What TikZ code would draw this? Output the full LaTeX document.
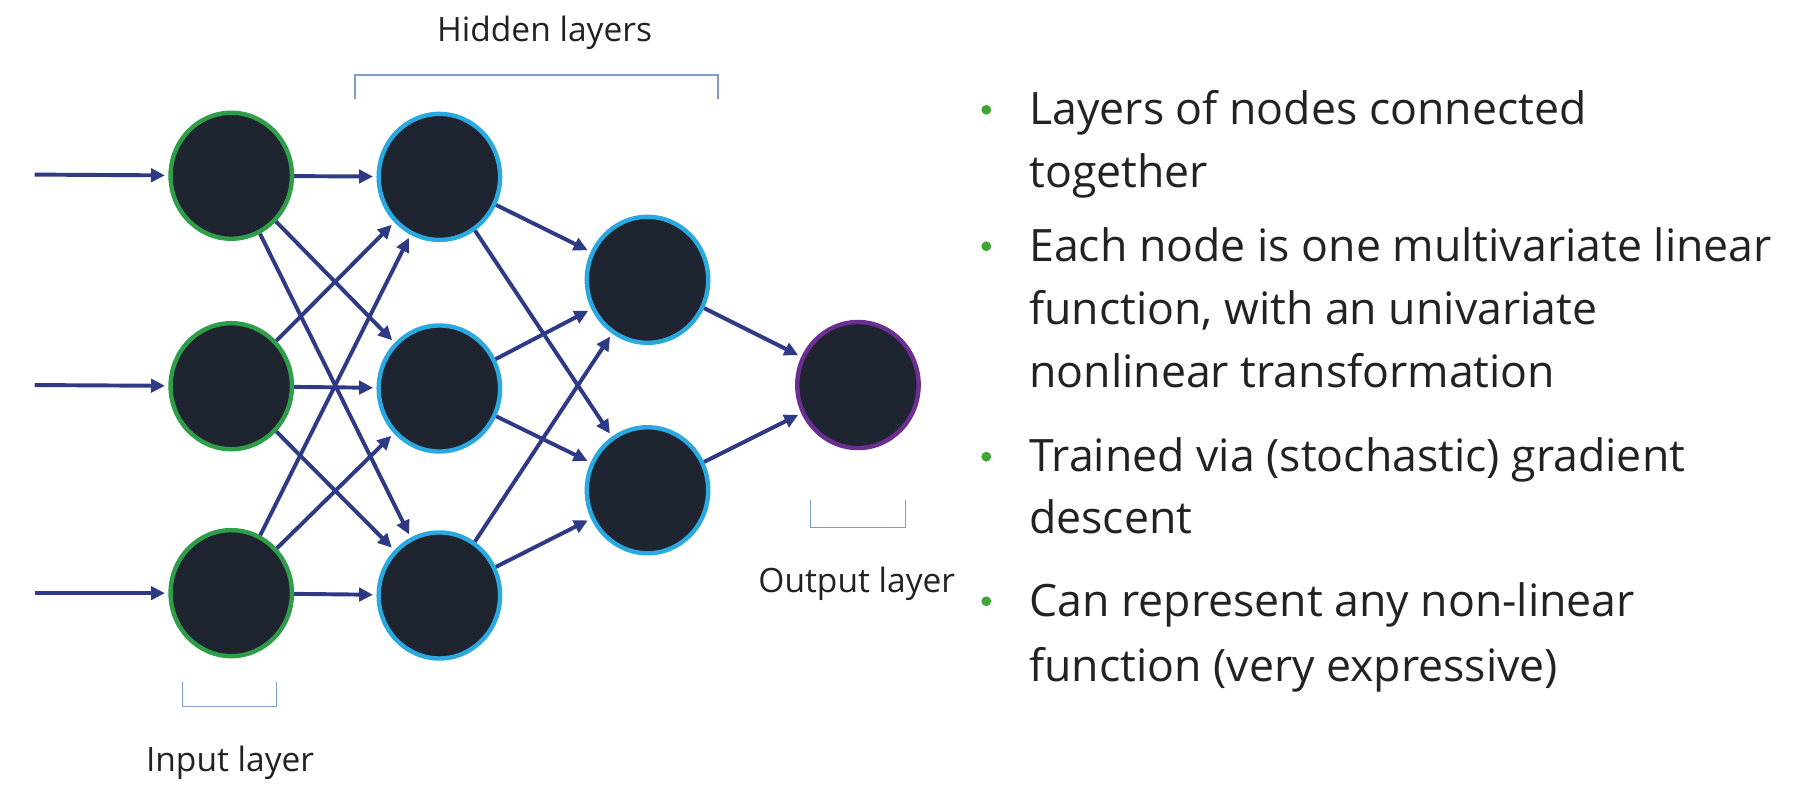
\documentclass[tikz,border=0pt]{standalone}
\usepackage{fontspec}
\setmainfont{Open Sans}
\usetikzlibrary{arrows.meta,shapes.geometric}
\definecolor{nodefill}{HTML}{1E2430}
\definecolor{ingreen}{HTML}{2E9E48}
\definecolor{hidblue}{HTML}{2AA8E0}
\definecolor{outpurple}{HTML}{6A2F90}
\definecolor{arrcol}{HTML}{2E3A86}
\definecolor{brack}{HTML}{7F9DC8}
\definecolor{bulgreen}{HTML}{3FA535}
\definecolor{txt}{HTML}{222222}
\tikzset{
  neuron/.style={ellipse, minimum width=105pt, minimum height=109pt, fill=nodefill, line width=3.8pt, inner sep=0pt},
  inneuron/.style={neuron, draw=ingreen},
  hidneuron/.style={neuron, draw=hidblue},
  outneuron/.style={neuron, draw=outpurple},
  conn/.style={draw=arrcol, line width=3.4pt, -{Triangle[length=12pt,width=11.5pt]}, shorten >=3pt},
  bracketline/.style={draw=brack, line width=1.3pt},
  lbl/.style={font=\fontsize{29}{34}\selectfont, text=txt},
  btxt/.style={font=\fontsize{38.6}{46}\selectfont, text=txt, anchor=base west, inner sep=0pt},
  bdot/.style={circle, fill=bulgreen, minimum size=8.5pt, inner sep=0pt}
}
\begin{document}
\begin{tikzpicture}[x=1pt,y=-1pt]
\useasboundingbox (0,0) rectangle (1568,682);
% nodes
\node[inneuron] (i1) at (200,152) {};
\node[inneuron] (i2) at (200,334) {};
\node[inneuron] (i3) at (200,513) {};
\node[hidneuron] (h1) at (380,153) {};
\node[hidneuron] (h2) at (380,336) {};
\node[hidneuron] (h3) at (380,515) {};
\node[hidneuron] (g1) at (560,242) {};
\node[hidneuron] (g2) at (560,424) {};
\node[outneuron] (o) at (742,333) {};
% input arrows
\coordinate (s1) at (30,151);
\coordinate (s2) at (30,333);
\coordinate (s3) at (30,513);
\draw[conn] (s1) -- (i1);
\draw[conn] (s2) -- (i2);
\draw[conn] (s3) -- (i3);
% input -> hidden1
\foreach \a in {i1,i2,i3}{\foreach \b in {h1,h2,h3}{\draw[conn] (\a) -- (\b);}}
% hidden1 -> hidden2
\foreach \a in {h1,h2,h3}{\foreach \b in {g1,g2}{\draw[conn] (\a) -- (\b);}}
% hidden2 -> output
\draw[conn] (g1) -- (o);
\draw[conn] (g2) -- (o);
% brackets and labels
\coordinate (hb1) at (307,86); \coordinate (hb2) at (307,65); \coordinate (hb3) at (621,65); \coordinate (hb4) at (621,86);
\draw[bracketline] (hb1) -- (hb2) -- (hb3) -- (hb4);
\node[lbl] (hl) at (471,28) {Hidden layers};
\coordinate (ib1) at (158,590); \coordinate (ib2) at (158,611); \coordinate (ib3) at (239,611); \coordinate (ib4) at (239,590);
\draw[bracketline] (ib1) -- (ib2) -- (ib3) -- (ib4);
\node[lbl] (il) at (199,660) {Input layer};
\coordinate (ob1) at (701,432); \coordinate (ob2) at (701,456); \coordinate (ob3) at (783,456); \coordinate (ob4) at (783,432);
\draw[bracketline] (ob1) -- (ob2) -- (ob3) -- (ob4);
\node[lbl] (ol) at (741,505) {Output layer};
% bullets
\node[bdot] (d1) at (853,95) {};
\node[bdot] (d2) at (853,213) {};
\node[bdot] (d3) at (853,395) {};
\node[bdot] (d4) at (853,520) {};
\node[btxt] (t1) at (890,108) {Layers of nodes connected};
\node[btxt] (t2) at (890,162) {together};
\node[btxt] (t3) at (890,226) {Each node is one multivariate linear};
\node[btxt] (t4) at (890,281) {function, with an univariate};
\node[btxt] (t5) at (890,335) {nonlinear transformation};
\node[btxt] (t6) at (890,408) {Trained via (stochastic) gradient};
\node[btxt] (t7) at (890,461) {descent};
\node[btxt] (t8) at (890,533) {Can represent any non-linear};
\node[btxt] (t9) at (890,589) {function (very expressive)};
\end{tikzpicture}
\end{document}
